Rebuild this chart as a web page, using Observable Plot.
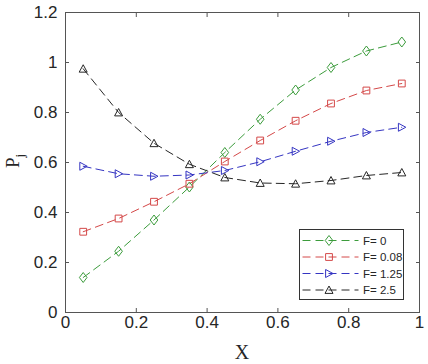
<!DOCTYPE html>
<html><head><meta charset="utf-8">
<script src="https://cdn.jsdelivr.net/npm/d3@7"></script>
<script src="https://cdn.jsdelivr.net/npm/@observablehq/plot@0.6"></script>
<style>body{margin:0;background:#fff} #wrap{position:relative;width:428px;height:364px;overflow:hidden}</style>
</head><body><div id="wrap"></div>
<script>
const xValues = [0.05, 0.15, 0.25, 0.35, 0.45, 0.55, 0.65, 0.75, 0.85, 0.95];
const seriesNames = ["F= 0", "F= 0.08", "F= 1.25", "F= 2.5"];
const pF0    = [0.140, 0.245, 0.370, 0.502, 0.640, 0.773, 0.890, 0.980, 1.046, 1.082];
const pF008  = [0.323, 0.376, 0.443, 0.515, 0.604, 0.688, 0.767, 0.836, 0.888, 0.916];
const pF125  = [0.585, 0.555, 0.545, 0.550, 0.568, 0.603, 0.645, 0.685, 0.720, 0.741];
const pF25   = [0.975, 0.800, 0.677, 0.593, 0.540, 0.518, 0.515, 0.528, 0.548, 0.560];
const xTicks = [0, 0.2, 0.4, 0.6, 0.8, 1];
const yTicks = [0, 0.2, 0.4, 0.6, 0.8, 1, 1.2];
const colors = ["#3c9c3c", "#d44848", "#3535c2", "#262626"];

const allSeries = [pF0, pF008, pF125, pF25];
const rows = allSeries.flatMap((vals, i) => vals.map((y, j) => ({x: xValues[j], y, series: seriesNames[i]})));

const rad = (size) => Math.sqrt(size / Math.PI);
const symDiamond = {draw(c, s) { const r = rad(s); c.moveTo(0, -1.25*r); c.lineTo(0.95*r, 0); c.lineTo(0, 1.25*r); c.lineTo(-0.95*r, 0); c.closePath(); }};
const symSquare = {draw(c, s) { const r = rad(s); c.rect(-0.85*r, -0.85*r, 1.7*r, 1.7*r); }};
const symRight = {draw(c, s) { const r = rad(s); c.moveTo(-0.85*r, -r); c.lineTo(r, 0); c.lineTo(-0.85*r, r); c.closePath(); }};
const symUp = {draw(c, s) { const r = rad(s); c.moveTo(0, -r); c.lineTo(r, 0.85*r); c.lineTo(-r, 0.85*r); c.closePath(); }};
const symbols = [symDiamond, symSquare, symRight, symUp];

const fmt = d3.format("~g");
const axisStyle = {fontSize: 17, fill: "#262626", label: null};

const plot = Plot.plot({
  width: 428, height: 364,
  marginLeft: 65, marginRight: 9, marginTop: 12, marginBottom: 52,
  style: {fontFamily: "Liberation Sans, Arial, sans-serif", background: "#fff"},
  x: {domain: [0, 1]},
  y: {domain: [0, 1.2]},
  color: {domain: seriesNames, range: colors},
  marks: [
    Plot.axisX({ticks: xTicks, tickSize: 0, tickPadding: 3, tickFormat: fmt, ...axisStyle}),
    Plot.axisY({ticks: yTicks, tickSize: 0, tickPadding: 8, tickFormat: fmt, ...axisStyle}),
    Plot.axisX({ticks: xTicks, tickSize: -4, tickFormat: () => "", stroke: "#555", label: null}),
    Plot.axisX({ticks: xTicks, anchor: "top", tickSize: -4, tickFormat: () => "", stroke: "#555", label: null}),
    Plot.axisY({ticks: yTicks, tickSize: -4, tickFormat: () => "", stroke: "#555", label: null}),
    Plot.axisY({ticks: yTicks, anchor: "right", tickSize: -4, tickFormat: () => "", stroke: "#555", label: null}),
    Plot.line(rows, {x: "x", y: "y", z: "series", stroke: "series", strokeWidth: 1, strokeDasharray: "8,5"}),
    ...seriesNames.map((name, i) => Plot.dot(rows.filter(d => d.series === name), {x: "x", y: "y", symbol: symbols[i], r: 4, stroke: colors[i], fill: "none", strokeWidth: 1})),
    Plot.frame({stroke: "#555"})
  ]
});
const wrap = document.getElementById("wrap");
wrap.appendChild(plot);

// overlay: axis labels and legend
const ov = d3.select(wrap).append("svg")
  .attr("width", 428).attr("height", 364)
  .style("position", "absolute").style("left", "0px").style("top", "0px")
  .style("pointer-events", "none");

ov.append("text").attr("x", 242).attr("y", 359).attr("text-anchor", "middle")
  .attr("font-family", "Liberation Serif, Times New Roman, serif").attr("font-size", 20).attr("fill", "#262626").text("X");

const yl = ov.append("text").attr("transform", "translate(19,161) rotate(-90)").attr("text-anchor", "middle")
  .attr("font-family", "Liberation Serif, Times New Roman, serif").attr("font-size", 19).attr("fill", "#262626");
yl.append("tspan").text("P");
yl.append("tspan").attr("font-size", 13).attr("dy", 5).text("j");

const lg = ov.append("g").attr("transform", "translate(299.5,229.5)");
lg.append("rect").attr("width", 104).attr("height", 70).attr("fill", "#fff").attr("stroke", "#333").attr("stroke-width", 1);
seriesNames.forEach((name, i) => {
  const cy = 11 + i * 16.5;
  lg.append("line").attr("x1", 3).attr("x2", 59).attr("y1", cy).attr("y2", cy)
    .attr("stroke", colors[i]).attr("stroke-width", 1).attr("stroke-dasharray", "8,5");
  lg.append("path").attr("transform", `translate(29.5,${cy})`).attr("d", d3.symbol(symbols[i], 16 * Math.PI)())
    .attr("fill", "none").attr("stroke", colors[i]).attr("stroke-width", 1);
  lg.append("text").attr("x", 63.5).attr("y", cy).attr("dy", "0.36em")
    .attr("font-family", "Liberation Sans, Arial, sans-serif").attr("font-size", 11.5).attr("fill", "#262626").text(name);
});
</script>
</body></html>
